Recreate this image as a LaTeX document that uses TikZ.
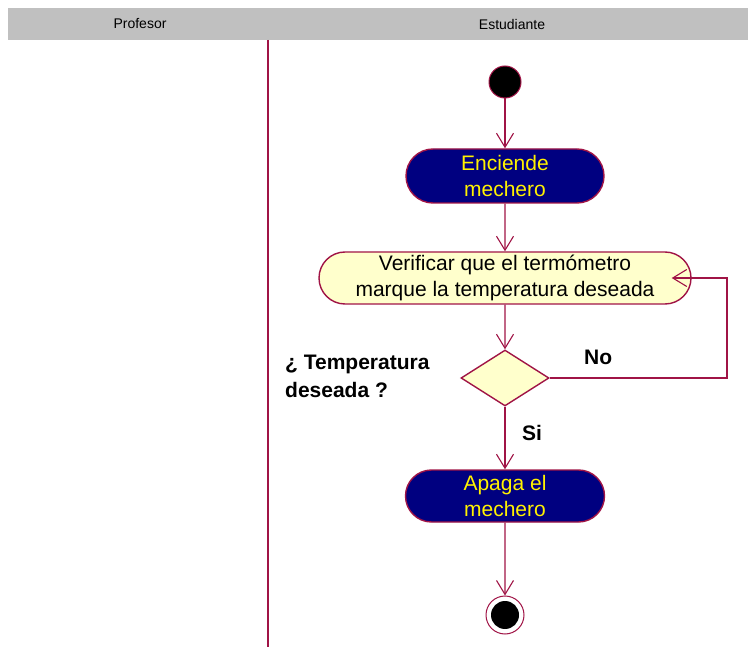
\documentclass[tikz,border=0pt]{standalone}
\usepackage{fontspec}
\setmainfont{Liberation Sans}
\usetikzlibrary{arrows.meta,shapes.misc,shapes.geometric}
\definecolor{edge}{RGB}{160,20,70}
\definecolor{navy}{RGB}{0,0,128}
\definecolor{cream}{RGB}{255,255,204}
\definecolor{band}{RGB}{192,192,192}
\tikzset{
  flow/.style={draw=edge, line width=1.4pt, -{Straight Barb[length=14pt,width=17pt,line width=1.1pt]}},
  darkact/.style={rounded rectangle, draw=edge, line width=1.4pt, fill=navy, text=yellow,
    font=\fontsize{21}{26}\selectfont, align=center, inner sep=0pt},
  lightact/.style={rounded rectangle, draw=edge, line width=1.4pt, fill=cream, text=black,
    font=\fontsize{21}{26}\selectfont, align=center, inner sep=0pt},
  decision/.style={diamond, draw=edge, line width=1.4pt, fill=cream, minimum width=88pt,
    minimum height=56pt, inner sep=0pt, aspect=1.57},
  guard/.style={font=\bfseries\fontsize{21}{28}\selectfont, inner sep=0pt},
  lanehead/.style={font=\fontsize{14}{16}\selectfont, inner sep=0pt}
}
\begin{document}
\begin{tikzpicture}[x=1pt,y=-1pt]
  \useasboundingbox (0,0) rectangle (748,647);
  \fill[white] (0,0) rectangle (748,647);
  % swimlane headers
  \fill[band] (8,8) rectangle (748,40);
  \node[lanehead] (prof) at (140,24) {Profesor};
  \node[lanehead] (estu) at (512,24) {Estudiante};
  \draw[edge, line width=1.8pt] (268,40) -- (268,647);
  % activity flow
  \node[circle, fill=black, draw=edge, line width=1pt, minimum size=32pt, inner sep=0pt] (start) at (505,82) {};
  \node[darkact, minimum width=198pt, minimum height=54pt] (encend) at (505,176) {Enciende\\mechero};
  \node[lightact, minimum width=372pt, minimum height=52pt] (verif) at (505,278) {Verificar que el termómetro\\marque la temperatura deseada};
  \node[decision] (dec) at (505,378) {};
  \node[darkact, minimum width=199pt, minimum height=52pt] (apaga) at (505,496) {Apaga el\\mechero};
  \node[circle, draw=edge, line width=1pt, minimum size=38pt, inner sep=0pt] (fin) at (505,615) {};
  \node[circle, fill=black, minimum size=28pt, inner sep=0pt] (fincore) at (fin) {};
  \draw[flow] (start) -- (encend);
  \draw[flow] (encend) -- (verif);
  \draw[flow] (verif) -- (dec);
  \draw[flow] (dec) -- (apaga);
  \draw[flow] (apaga) -- (fin);
  \coordinate (loopa) at (727,378);
  \coordinate (loopb) at (727,278);
  \draw[flow] (dec.east) -- (loopa) -- (loopb) -- ([xshift=-20pt]verif.east);
  % guards and decision text
  \node[guard, anchor=west] (no) at (584,357) {No};
  \node[guard, anchor=west] (si) at (522,433) {Si};
  \node[guard, anchor=north west, align=left] (quest) at (285,355) {¿ Temperatura\\deseada ?};
\end{tikzpicture}
\end{document}
